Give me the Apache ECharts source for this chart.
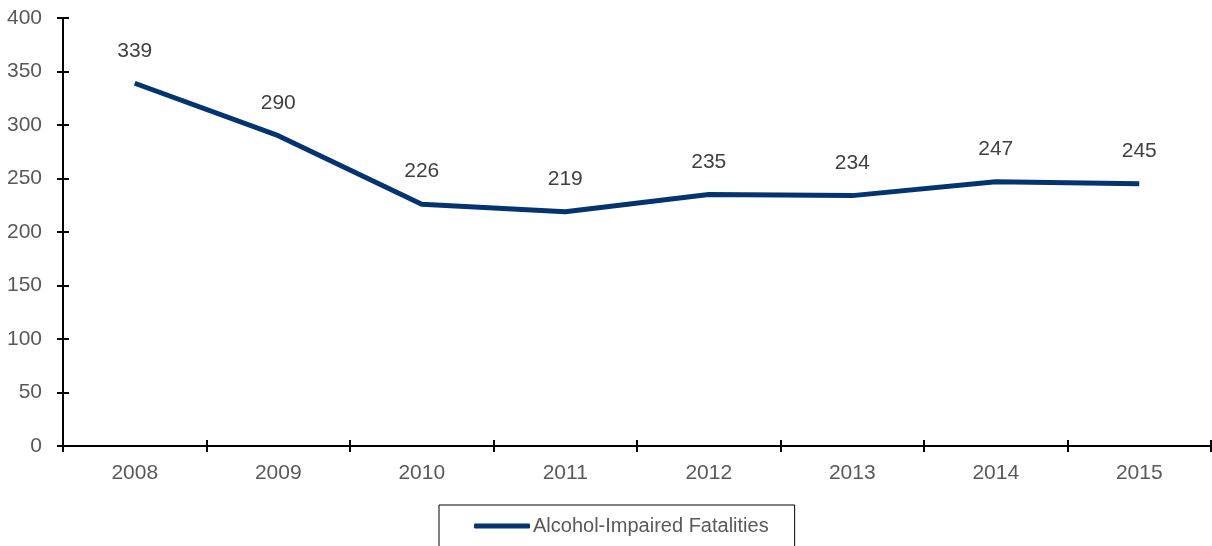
<!DOCTYPE html>
<html>
<head>
<meta charset="utf-8">
<script src="https://cdn.jsdelivr.net/npm/echarts@6/dist/echarts.min.js"></script>
<style>
  html, body { margin: 0; padding: 0; background: #fff; }
  #chart { width: 1212px; height: 546px; }
</style>
</head>
<body>
<div id="chart"></div>
<script>
const years = ['2008', '2009', '2010', '2011', '2012', '2013', '2014', '2015'];
const fatalities = [339, 290, 226, 219, 235, 234, 247, 245];
const seriesName = 'Alcohol-Impaired Fatalities';

const font = '"Liberation Sans Narrow", "Arial Narrow", "Liberation Sans", sans-serif';
const navy = '#043470';

let chart = echarts.init(document.getElementById('chart'));

// base axis style, reused for the "inside" copy so the ticks cross the axis line
function yAxisBase(inside) {
  return {
    type: 'value',
    min: 0,
    max: 400,
    interval: 50,
    position: 'left',
    axisLine: { show: true, lineStyle: { color: '#000', width: 2 } },
    axisTick: { show: true, inside: inside, length: 6, lineStyle: { color: '#000', width: 2 } },
    axisLabel: { show: !inside, margin: 21, fontSize: 21, color: '#595959', fontFamily: font },
    splitLine: { show: false }
  };
}
function xAxisBase(inside) {
  return {
    type: 'category',
    data: years,
    boundaryGap: true,
    position: 'bottom',
    axisLine: { show: true, lineStyle: { color: '#000', width: 2 } },
    axisTick: { show: true, inside: inside, length: 6, alignWithLabel: false, lineStyle: { color: '#000', width: 2 } },
    axisLabel: { show: !inside, margin: 17, fontSize: 21, color: '#595959', fontFamily: font }
  };
}

let option = {
  animation: false,
  grid: { left: 63, right: 1, top: 18, bottom: 100 },
  xAxis: [xAxisBase(false), xAxisBase(true)],
  yAxis: [yAxisBase(false), yAxisBase(true)],
  legend: {
    left: 439,
    top: 505,
    orient: 'horizontal',
    borderColor: '#000',
    borderWidth: 1,
    padding: [11, 26, 22, 35],
    itemWidth: 56,
    itemHeight: 5,
    itemGap: 4,
    icon: 'roundRect',
    textStyle: { fontSize: 20, color: '#595959', fontFamily: font, padding: [0, 0, 0, -2] },
    data: [{ name: seriesName, itemStyle: { color: navy } }]
  },
  series: [
    {
      name: seriesName,
      type: 'line',
      xAxisIndex: 0,
      yAxisIndex: 0,
      data: fatalities,
      showSymbol: true,
      symbol: 'circle',
      symbolSize: 0.1,
      lineStyle: { color: navy, width: 5 },
      itemStyle: { color: navy },
      label: {
        show: true,
        position: 'top',
        distance: 22,
        fontSize: 21,
        color: '#404040',
        fontFamily: font
      }
    }
  ]
};

chart.setOption(option);
</script>
</body>
</html>
